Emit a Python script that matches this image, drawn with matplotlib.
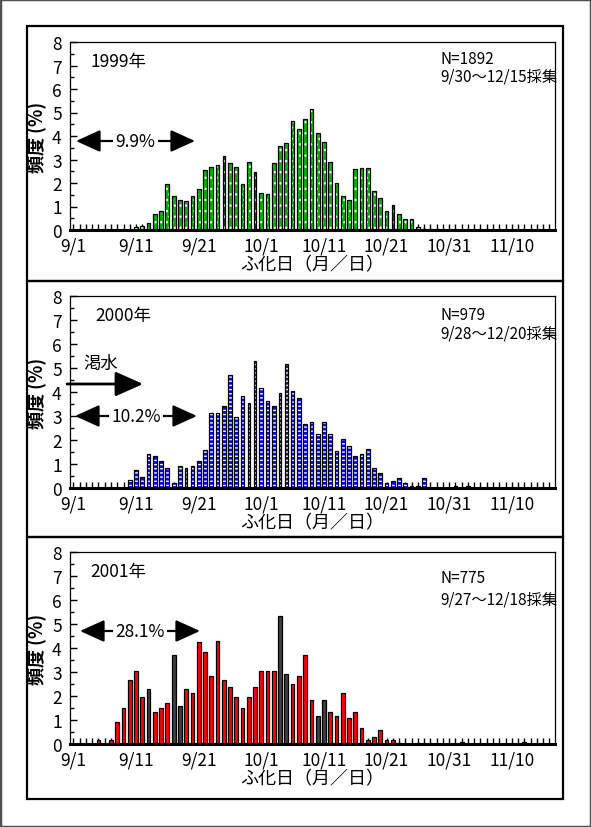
import numpy as np
import matplotlib.pyplot as plt
from matplotlib.patches import Rectangle

plt.rcParams['font.family'] = ['Noto Sans CJK JP', 'DejaVu Sans']
plt.rcParams['hatch.linewidth'] = 1.0

W, H = 591, 828

def fx(x):
    return x / W

def fy(y):
    return 1 - y / H

# --- data: days counted from 9/1, frequency (%) ---
tick_days = [0, 10, 20, 30, 40, 50, 60, 70]
tick_labels = ['9/1', '9/11', '9/21', '10/1', '10/11', '10/21', '10/31', '11/10']

days_1999 = np.arange(10, 59)
freq_1999 = [0.14, 0.15, 0.30, 0.68, 0.80, 1.96, 1.45, 1.28, 1.24, 1.45,
             1.75, 2.56, 2.68, 2.77, 3.15, 2.86, 2.68, 1.96, 2.90, 2.47,
             1.57, 1.52, 2.85, 3.57, 3.70, 4.63, 4.29, 4.71, 5.13, 4.11,
             3.73, 2.88, 1.99, 1.43, 1.26, 2.58, 2.62, 2.62, 1.65, 1.35,
             0.80, 1.05, 0.69, 0.46, 0.45, 0.11, 0.06, 0.06, 0.06]
narrow_1999 = [24, 29, 51]

days_2000 = np.concatenate([np.arange(9, 57), [61, 63]])
freq_2000 = [0.32, 0.74, 0.44, 1.43, 1.35, 1.14, 0.85, 0.22, 0.93, 0.85,
             0.93, 1.14, 1.57, 3.13, 3.13, 3.43, 4.69, 2.97, 3.85, 3.56,
             5.31, 4.18, 3.64, 3.43, 3.97, 5.18, 4.06, 3.76, 2.68, 2.76,
             2.26, 2.76, 2.26, 1.56, 2.06, 1.76, 1.35, 1.43, 1.64, 0.85,
             0.64, 0.22, 0.31, 0.43, 0.22, 0.10, 0.10, 0.43,
             0.10, 0.10]
narrow_2000 = [18, 28, 29, 33, 34]

days_2001 = np.concatenate([[4], np.arange(6, 53), [55, 57, 62, 72]])
freq_2001 = [0.17,
             0.17, 0.92, 1.48, 2.65, 3.03, 1.97, 2.28, 1.34, 1.48, 1.72,
             3.70, 1.59, 2.28, 2.14, 4.23, 3.85, 2.82, 4.30, 2.66, 2.39,
             1.97, 1.48, 1.97, 2.39, 3.03, 3.03, 3.03, 5.35, 2.90, 2.48,
             2.82, 3.70, 1.85, 1.17, 1.85, 1.34, 1.17, 2.14, 1.08, 1.34,
             0.66, 0.15, 0.28, 0.58, 0.15, 0.15, 0.03,
             0.03, 0.03, 0.10, 0.10]
dark_2001 = [12, 16, 17, 33, 34, 39, 40]

FS = 12.5
FS_N = 11

fig = plt.figure(figsize=(W / 100, H / 100), dpi=100)

# outer frame and panel boxes
fig.patches.append(Rectangle((0, 0), 1, 1, transform=fig.transFigure,
                             fill=False, edgecolor='#505050', linewidth=2.5))
for top, bot in [(27, 282), (282, 538), (538, 800)]:
    fig.patches.append(Rectangle((fx(27), fy(bot)), fx(563) - fx(27), fy(top) - fy(bot),
                                 transform=fig.transFigure, fill=False,
                                 edgecolor='black', linewidth=1.6))


def make_axes(top, bot):
    ax = fig.add_axes([fx(70), fy(bot), fx(555) - fx(70), fy(top) - fy(bot)])
    ax.set_xlim(-0.55, 76.9)
    ax.set_ylim(0, 8)
    ax.set_yticks(range(9))
    ax.set_yticks(np.arange(0, 8, 0.5), minor=True)
    ax.set_xticks(tick_days)
    ax.set_xticklabels(tick_labels)
    ax.set_xticks(range(77), minor=True)
    ax.tick_params(which='both', direction='in', labelsize=FS, width=1)
    ax.tick_params(axis='y', which='major', length=5, pad=6)
    ax.tick_params(axis='y', which='minor', length=3)
    ax.tick_params(axis='x', which='both', length=4, pad=5)
    for s in ['left', 'top', 'right']:
        ax.spines[s].set_linewidth(0.9)
    ax.spines['bottom'].set_linewidth(2.2)
    ax.set_ylabel('頻度 (%)', fontsize=13, fontweight='bold')
    ax.yaxis.set_label_coords(-0.047, 0.5)
    ax.set_xlabel('ふ化日（月／日）', fontsize=13, labelpad=0)
    return ax


def hatched_bars(ax, days, freq, narrow, face, hatch, dark_face):
    days = np.asarray(days)
    freq = np.asarray(freq)
    is_narrow = np.isin(days, narrow)
    widths = np.where(is_narrow, 0.38, 0.6)
    faces = [dark_face if n else face for n in is_narrow]
    ax.bar(days, freq, width=widths, color=faces, edgecolor='white',
           hatch=hatch, linewidth=0, zorder=2)
    ax.bar(days, freq, width=widths, fill=False, edgecolor='black',
           linewidth=0.9, zorder=3)


def double_arrow(ax, x0, x1, y, label):
    ax.annotate('', xy=(fx(x1), fy(y)), xytext=(fx(x0), fy(y)),
                xycoords='figure fraction', textcoords='figure fraction',
                arrowprops=dict(arrowstyle='<|-|>,head_length=0.75,head_width=0.34',
                                mutation_scale=20, color='black', lw=1.6,
                                shrinkA=0, shrinkB=0))
    fig.text(fx((x0 + x1) / 2), fy(y), label, ha='center', va='center',
             fontsize=FS, bbox=dict(facecolor='white', edgecolor='none', pad=1.5),
             zorder=10)


# 1999
ax1 = make_axes(43, 231)
hatched_bars(ax1, days_1999, freq_1999, narrow_1999, '#00b400', '...', '#205020')
fig.text(fx(90), fy(62), '1999年', fontsize=FS, va='center')
fig.text(fx(440), fy(59), 'N=1892', fontsize=FS_N, va='center')
fig.text(fx(440), fy(77), '9/30～12/15採集', fontsize=FS_N, va='center')
double_arrow(ax1, 76, 195, 142, '9.9%')

# 2000
ax2 = make_axes(297, 489)
hatched_bars(ax2, days_2000, freq_2000, narrow_2000, '#0000ff', '----', '#202040')
fig.text(fx(95), fy(316), '2000年', fontsize=FS, va='center')
fig.text(fx(440), fy(315), 'N=979', fontsize=FS_N, va='center')
fig.text(fx(440), fy(334), '9/28～12/20採集', fontsize=FS_N, va='center')
fig.text(fx(83), fy(364), '渇水', fontsize=FS, va='center')
ax2.annotate('', xy=(fx(143), fy(385)), xytext=(fx(67), fy(385)),
             xycoords='figure fraction', textcoords='figure fraction',
             arrowprops=dict(arrowstyle='-|>,head_length=0.85,head_width=0.38',
                             mutation_scale=20, color='black', lw=2,
                             shrinkA=0, shrinkB=0))
double_arrow(ax2, 75, 197, 417, '10.2%')

# 2001
ax3 = make_axes(553, 745)
d3 = np.asarray(days_2001)
cols3 = ['#404040' if d in dark_2001 else '#ff0000' for d in d3]
ax3.bar(d3, freq_2001, width=0.6, color=cols3, edgecolor='black',
        linewidth=0.9, zorder=2)
fig.text(fx(90), fy(572), '2001年', fontsize=FS, va='center')
fig.text(fx(440), fy(579), 'N=775', fontsize=FS_N, va='center')
fig.text(fx(440), fy(600), '9/27～12/18採集', fontsize=FS_N, va='center')
double_arrow(ax3, 80, 200, 632, '28.1%')

fig.savefig('out.png', dpi=100)
